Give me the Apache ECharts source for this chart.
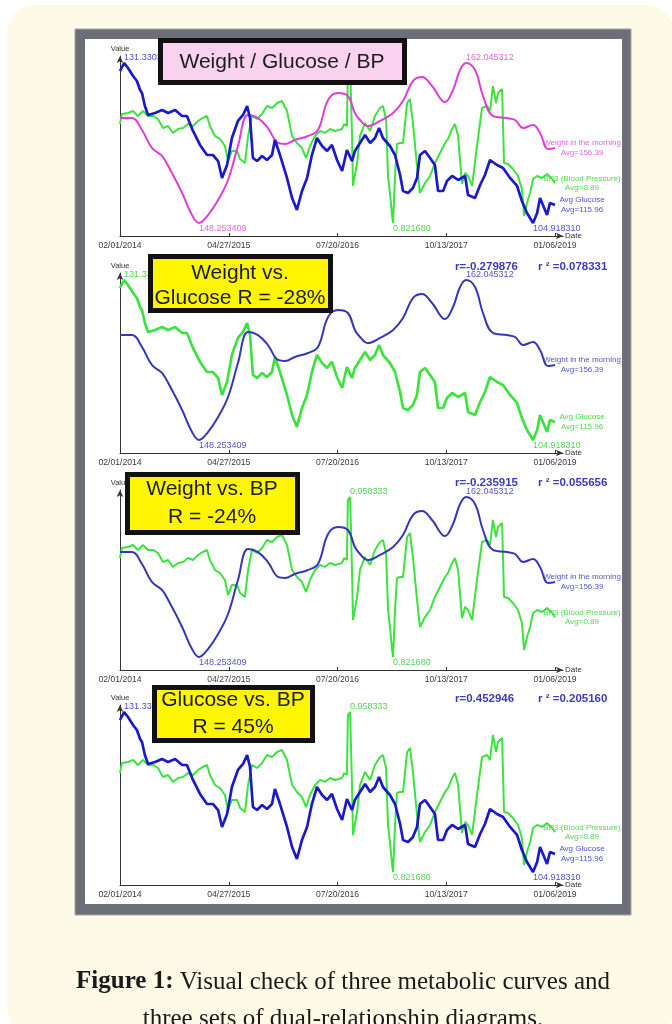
<!DOCTYPE html>
<html>
<head>
<meta charset="utf-8">
<script src="https://cdn.jsdelivr.net/npm/echarts@6.0.0/dist/echarts.min.js"></script>
<style>
  html, body { margin: 0; padding: 0; background: #fff; }
  #chart { width: 672px; height: 1024px; }
</style>
</head>
<body>
<div id="chart"></div>
<script>
// date ticks, 450 days apart starting 02/01/2014
const dateLabels = ['02/01/2014', '04/27/2015', '07/20/2016', '10/13/2017', '01/06/2019'];
const dayStep = 450;
const tickDays = dateLabels.map((d, i) => i * dayStep);

// weight in the morning (lb)
const weightDays = [0, 50, 91, 132, 174, 215, 257, 298, 327, 364, 406, 447, 488, 530, 571, 612, 654, 683, 724, 778,
  819, 861, 902, 943, 972, 993, 1026, 1076, 1130, 1171, 1212, 1250, 1291, 1345, 1378, 1407, 1432, 1469, 1502, 1543,
  1601, 1635, 1668, 1709, 1738, 1771, 1800];
const weightVals = [157.30, 157.30, 156.27, 154.72, 154.03, 152.56, 150.84, 148.94, 148.253409, 148.94, 150.24, 151.96,
  154.89, 157.56, 157.30, 156.44, 155.15, 155.06, 155.41, 155.75, 156.27, 158.86, 159.46, 159.20, 157.74, 157.13,
  156.61, 157.05, 157.74, 158.77, 160.49, 160.84, 160.06, 158.68, 159.72, 161.44, 162.045312, 161.44, 159.20, 157.48,
  157.30, 157.13, 156.44, 156.70, 156.01, 154.63, 154.72];

// average glucose
const glucoseDays = [0, 17, 33, 54, 70, 83, 91, 103, 116, 145, 174, 199, 228, 257, 277, 302, 331, 360, 385, 406,
  422, 443, 463, 488, 509, 526, 538, 550, 567, 588, 608, 629, 641, 662, 691, 712, 732, 753, 774, 794,
  815, 836, 857, 877, 898, 919, 939, 960, 972, 993, 1014, 1035, 1055, 1072, 1088, 1117, 1138, 1159, 1171, 1192,
  1212, 1229, 1241, 1262, 1283, 1303, 1316, 1337, 1353, 1374, 1399, 1428, 1440, 1469, 1490, 1510, 1531, 1560, 1585, 1614,
  1643, 1663, 1684, 1709, 1726, 1738, 1750, 1767, 1779, 1800];
const glucoseVals = [130.01, 131.3303, 130.51, 129.19, 128.36, 126.88, 126.38, 124.24, 122.75, 123.08,
  123.57, 123.08, 123.57, 122.58, 122.58, 120.11, 117.80, 116.14, 116.14, 115.15,
  112.35, 114.49, 118.95, 121.76, 122.75, 124.24, 122.25, 115.65, 115.15, 115.98,
  115.32, 116.14, 118.62, 116.14, 112.35, 109.05, 107.07, 110.20, 112.35, 116.14,
  118.95, 117.63, 116.81, 117.80, 115.32, 113.50, 116.97, 115.15, 116.81, 118.13,
  119.45, 118.13, 118.95, 120.60, 118.95, 117.63, 116.14, 112.84, 110.20, 109.87,
  110.70, 112.35, 116.14, 116.81, 115.65, 114.49, 110.20, 110.20, 111.85, 112.68,
  112.02, 112.68, 109.54, 109.05, 111.19, 112.84, 115.32, 114.49, 114.00, 112.35,
  111.03, 108.55, 106.57, 104.918310, 106.57, 109.05, 107.89, 106.24, 108.22, 107.89];

// blood pressure ratio
const bpDays = [0, 8, 33, 54, 74, 95, 116, 137, 157, 178, 199, 219, 240, 261, 281, 302, 323, 343, 360, 372,
  393, 414, 434, 447, 463, 484, 497, 517, 530, 546, 567, 588, 608, 629, 650, 670, 691, 712, 732, 753,
  770, 786, 807, 828, 848, 869, 890, 919, 927, 939, 943, 952, 960, 964, 981, 993, 1014, 1035, 1055, 1076,
  1088, 1101, 1109, 1117, 1126, 1130, 1138, 1146, 1159, 1171, 1188, 1200, 1212, 1229, 1241, 1262, 1283, 1303, 1324, 1345,
  1357, 1374, 1386, 1399, 1415, 1428, 1440, 1457, 1477, 1498, 1519, 1531, 1543, 1556, 1564, 1581, 1589, 1606, 1626, 1647,
  1663, 1672, 1684, 1697, 1709, 1726, 1746, 1767, 1788, 1800];
const bpVals = [0.9062, 0.9148, 0.9156, 0.9173, 0.9131, 0.9173, 0.9131, 0.9131, 0.9105, 0.9028,
  0.9045, 0.8986, 0.9020, 0.9028, 0.9062, 0.9045, 0.9088, 0.9114, 0.9131, 0.9045,
  0.8960, 0.8934, 0.8874, 0.8746, 0.8832, 0.8832, 0.8763, 0.8729, 0.8960, 0.9131,
  0.9105, 0.9148, 0.9216, 0.9199, 0.9242, 0.9259, 0.9173, 0.8960, 0.8900, 0.8857,
  0.8772, 0.8874, 0.8960, 0.9003, 0.8986, 0.9020, 0.9003, 0.9020, 0.9062, 0.9045,
  0.9557, 0.958333, 0.8960, 0.8533, 0.8729, 0.8960, 0.9071, 0.9003, 0.9131, 0.9199,
  0.9216, 0.9105, 0.8618, 0.8473, 0.8277, 0.821680, 0.8618, 0.8891, 0.8900, 0.8900,
  0.9242, 0.9276, 0.9071, 0.8704, 0.8473, 0.8558, 0.8618, 0.8729, 0.8815, 0.8900,
  0.8934, 0.9020, 0.9062, 0.8960, 0.8550, 0.8644, 0.8618, 0.8533, 0.8874, 0.9199,
  0.9216, 0.9173, 0.9387, 0.9242, 0.9327, 0.9361, 0.8729, 0.8721, 0.8678, 0.8618,
  0.8507, 0.8277, 0.8388, 0.8473, 0.8593, 0.8618, 0.8601, 0.8635, 0.8593, 0.8558];

const curves = {
  weight: { days: weightDays, vals: weightVals, smooth: 0.4, width: 2, end: 'Weight in the morning\nAvg=156.39' },
  glucose: { days: glucoseDays, vals: glucoseVals, smooth: false, width: 2.7, end: 'Avg Glucose\nAvg=115.96' },
  bp: { days: bpDays, vals: bpVals, smooth: false, width: 2, end: 'BP3 (Blood Pressure)\nAvg=0.89' }
};

const MAGENTA = ['#e03cd6', '#e466dc'];
const BLUE = ['#1a1acc', '#5050d6'];
const SOFTBLUE = ['#3636bc', '#5656cc'];
const GREEN = ['#3ee23e', '#52d852'];

const panels = [
  { axisY: 236, lines: [['bp', GREEN], ['weight', MAGENTA], ['glucose', BLUE]],
    box: { x: 158, y: 38, w: 249, h: 47, fill: '#f9d2ef', cx: 282, texts: [['Weight / Glucose / BP', 62]] } },
  { axisY: 453, lines: [['glucose', GREEN], ['weight', SOFTBLUE]], r: ['r=-0.279876', 'r ² =0.078331'], rY: 267,
    box: { x: 148, y: 254, w: 185, h: 59, fill: '#fdf600', cx: 240, texts: [['Weight vs.', 273], ['Glucose R = -28%', 298]] } },
  { axisY: 670, lines: [['bp', GREEN], ['weight', SOFTBLUE]], r: ['r=-0.235915', 'r ² =0.055656'], rY: 483,
    box: { x: 125, y: 472, w: 175, h: 63, fill: '#fdf600', cx: 212, texts: [['Weight vs. BP', 489], ['R = -24%', 517]] } },
  { axisY: 885, lines: [['bp', GREEN], ['glucose', BLUE]], r: ['r=0.452946', 'r ² =0.205160'], rY: 699,
    box: { x: 152, y: 685, w: 163, h: 58, fill: '#fdf600', cx: 233, texts: [['Glucose vs. BP', 700], ['R = 45%', 727]] } }
];

const FONT = 'Liberation Sans, Arial, sans-serif';
const PLOT_H = 180;

// each curve gets its own scale: min sits 13px above the x axis, max 7px below the top
function scaleFor(vals) {
  const mn = Math.min(...vals), mx = Math.max(...vals), r = mx - mn;
  return { min: mn - r * 13 / 160, max: mx + r * 7 / 160 };
}

const grid = [], xAxis = [], yAxis = [], series = [], graphic = [];

panels.forEach((p, i) => {
  grid.push({ left: 120, right: 109, top: p.axisY - PLOT_H, height: PLOT_H });
  xAxis.push({
    gridIndex: i, type: 'value', min: 0, max: 1833,
    axisLine: { show: true, lineStyle: { color: '#333', width: 1 }, symbol: ['none', 'arrow'], symbolSize: [5, 7] },
    axisTick: { show: true, inside: true, length: 3, customValues: tickDays, lineStyle: { color: '#333' } },
    axisLabel: { customValues: tickDays, formatter: v => dateLabels[Math.round(v / dayStep)], fontSize: 8.6,
      color: '#3a3a3a', margin: 5, fontFamily: FONT },
    splitLine: { show: false },
    name: 'Date', nameLocation: 'end', nameGap: 2,
    nameTextStyle: { fontSize: 8, color: '#333', fontFamily: FONT, padding: [5, 0, 0, 0] }
  });
  // visible value axis (line + arrow only)
  yAxis.push({
    gridIndex: i, type: 'value', min: 0, max: 1,
    axisLine: { show: true, lineStyle: { color: '#333', width: 1 }, symbol: ['none', 'arrow'], symbolSize: [5, 7] },
    axisTick: { show: false }, axisLabel: { show: false }, splitLine: { show: false },
    name: 'Value', nameLocation: 'end', nameGap: 3,
    nameTextStyle: { fontSize: 7.5, color: '#333', fontFamily: FONT }
  });
  p.lines.forEach(([key, col], k) => {
    const c = curves[key];
    const sc = scaleFor(c.vals);
    const yIdx = yAxis.length;
    yAxis.push({ gridIndex: i, type: 'value', min: sc.min, max: sc.max, show: false });
    series.push({
      type: 'line', xAxisIndex: i, yAxisIndex: yIdx, z: 2 + k,
      data: c.days.map((d, j) => [d, c.vals[j]]),
      symbol: 'none', showSymbol: false, smooth: c.smooth,
      lineStyle: { color: col[0], width: c.width },
      markPoint: {
        symbol: 'circle', symbolSize: 0, silent: true,
        label: { show: true, formatter: m => m.value.toFixed(6), fontSize: 9, color: col[1], fontFamily: FONT },
        data: [
          { type: 'max', valueDim: 'y', label: { position: 'top', align: 'left', distance: 1 } },
          { type: 'min', valueDim: 'y', label: { position: 'bottom', align: 'left', distance: 1 } }
        ]
      },
      endLabel: { show: true, formatter: c.end, align: 'center', distance: 27, fontSize: 8, lineHeight: 9.5,
        color: col[1], fontFamily: FONT }
    });
  });

  const b = p.box;
  graphic.push({
    type: 'rect', z: 100,
    shape: { x: b.x + 2.5, y: b.y + 2.5, width: b.w - 5, height: b.h - 5 },
    style: { fill: b.fill, stroke: '#111', lineWidth: 5 }
  });
  b.texts.forEach(([t, ty]) => graphic.push({
    type: 'text', z: 101, x: b.cx, y: ty,
    style: { text: t, font: '21px ' + FONT, fill: '#1c1c1c', align: 'center', verticalAlign: 'middle' }
  }));
  if (p.r) {
    graphic.push({ type: 'text', z: 101, x: 455, y: p.rY,
      style: { text: p.r[0], font: 'bold 11.5px ' + FONT, fill: '#3c3cc0', verticalAlign: 'middle' } });
    graphic.push({ type: 'text', z: 101, x: 538, y: p.rY,
      style: { text: p.r[1], font: 'bold 11.5px ' + FONT, fill: '#3c3cc0', verticalAlign: 'middle' } });
  }
});

// page, frame and caption
graphic.unshift(
  { type: 'rect', z: -30, shape: { x: 7, y: 5, width: 667, height: 1030, r: 28 }, style: { fill: '#fefae8' } },
  { type: 'rect', z: -20, shape: { x: 75, y: 29, width: 556, height: 886 },
    style: { fill: '#6c6f77', stroke: '#a4a7ae', lineWidth: 1 } },
  { type: 'rect', z: -10, shape: { x: 85, y: 39, width: 537, height: 865 }, style: { fill: '#ffffff' } }
);
const CAP = 'Liberation Serif, serif';
graphic.push(
  { type: 'text', z: 5, x: 343, y: 982,
    style: { text: '{b|Figure 1:} Visual check of three metabolic curves and', font: '25px ' + CAP,
      fill: '#1a1a1a', align: 'center', verticalAlign: 'middle',
      rich: { b: { fontWeight: 'bold', fontSize: 25, fontFamily: CAP, fill: '#1a1a1a' } } } },
  { type: 'text', z: 5, x: 343, y: 1019,
    style: { text: 'three sets of dual-relationship diagrams.', font: '25px ' + CAP,
      fill: '#1a1a1a', align: 'center', verticalAlign: 'middle' } }
);

const chart = echarts.init(document.getElementById('chart'), null, { renderer: 'canvas' });
chart.setOption({
  animation: false,
  backgroundColor: '#ffffff',
  grid, xAxis, yAxis, series,
  graphic: { elements: graphic }
});
</script>
</body>
</html>
